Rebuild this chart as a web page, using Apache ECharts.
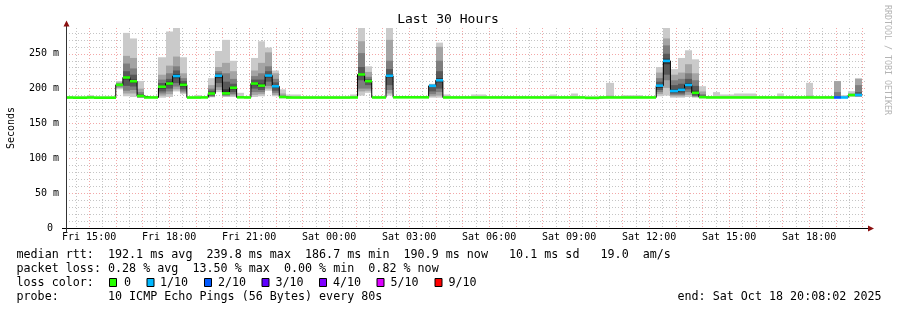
<!DOCTYPE html>
<html><head><meta charset="utf-8">
<script src="https://cdn.jsdelivr.net/npm/echarts@6.0.0/dist/echarts.min.js"></script>
<style>html,body{margin:0;padding:0;background:#fff}#c{width:897px;height:310px}</style>
</head><body><div id="c"></div>
<script>
// ---- time axis (minutes since Fri 00:00) ----
const startMin = 14 * 60 + 8 + 2 / 60;   // Fri 14:08:02
const endMin = startMin + 30 * 60;        // Sat 20:08:02
const firstStep = 14 * 60 + 8;            // first 16-min step start
const stepMin = 16;
const xTickValues = [900, 1080, 1260, 1440, 1620, 1800, 1980, 2160, 2340, 2520];
const xTickLabels = ['Fri 15:00', 'Fri 18:00', 'Fri 21:00', 'Sat 00:00', 'Sat 03:00', 'Sat 06:00', 'Sat 09:00', 'Sat 12:00', 'Sat 15:00', 'Sat 18:00'];
const yTickValues = [0, 50, 100, 150, 200, 250];
const yMax = 287;

// ---- sorted ping rtts per 16-min step (ms), ping1 = fastest ... ping10 = slowest ----
const ping1 = [
186.5,186.5,186.5,186.5,186.5,186.5,186.5,199,189,188,
186.5,186.5,186.5,187,188,196,192,186.5,186.5,186.5,
187.5,195,188,188,186.5,186.5,188,189,197,189,
186,186.5,186.5,186.5,186.5,186.5,186.5,186.5,186.5,186.5,
186.5,190,194,186.5,186.5,190,186.5,186.5,186.5,186.5,
186.5,187,187,186.5,186.5,186.5,186.5,186.5,186.5,186.5,
186.5,186.5,186.5,186.5,186.5,186.5,186.5,186.5,186.5,186.5,
186.5,186.5,186.5,186.5,186.5,186.5,186.5,186.5,186.5,186.5,
186.5,186.5,186.5,189,190,187,187,188,187,186,
186.5,186.5,186.5,186.5,186.5,186.5,186.5,186.5,186.5,186.5,
186.5,186.5,186.5,186.5,186.5,186.5,186.5,186.5,186.5,186.5,
188.5,188];
const ping2 = [
186.8,186.8,186.8,186.8,186.8,186.8,186.8,201,193,193,
187,186.8,186.8,190,192,199,194,186.8,186.8,186.8,
188,198,189,190,186.8,186.8,191,192,200,191,
186.5,186.8,186.8,186.8,186.8,186.8,186.8,186.8,186.8,186.8,
186.8,196,197,186.8,186.8,193,186.8,186.8,186.8,186.8,
186.8,189,190,186.8,186.8,186.8,186.8,186.8,186.8,186.8,
186.8,186.8,186.8,186.8,186.8,186.8,186.8,186.8,186.8,186.8,
186.8,186.8,186.8,186.8,186.8,186.8,186.8,186.8,186.8,186.8,
186.8,186.8,186.8,192,201,189,189,191,188,186.5,
186.8,186.8,186.8,186.8,186.8,186.8,186.8,186.8,186.8,186.8,
186.8,186.8,186.8,186.8,186.8,186.8,186.8,186.8,187,186.8,
189,188.5];
const ping3 = [
187,187,187,187,187,187,187,203,197,198,
187.5,187,187,193,196,203,196,187,187,187,
189,202,190,192,187,187,195,195,204,194,
187,187,187,187,187,187,187,187,187,187,
187,200,200,187,187,198,187,187,187,187,
187,192,195,187,187,187,187,187,187,187,
187,187,187,187,187,187,187,187,187,187,
187,187,187,187,187,187,187,187,187,187,
187,187,187,195,212,191,191,195,189,186.8,
187,187,187,187,187,187,187,187,187,187,
187,187,187,187,187,187,187,187,187.2,187,
189.5,189];
const ping4 = [
187.1,187.1,187.1,187.1,187.1,187.1,187.1,204,204,203,
188,187.1,187.1,196,200,208,199,187.1,187.1,187.1,
190,208,191,195,187.1,187.1,200,198,210,197,
187.5,187.1,187.1,187.1,187.1,187.1,187.1,187.1,187.1,187.1,
187.1,212,205,187.1,187.1,205,187.1,187.1,187.1,187.1,
187.1,196,200,187.1,187.1,187.1,187.1,187.1,187.1,187.1,
187.1,187.1,187.1,187.1,187.1,187.1,187.1,187.1,187.1,187.1,
187.1,187.1,187.1,187.1,187.1,187.1,187.1,187.1,187.1,187.1,
187.1,187.1,187.1,198,220,193,193,199,190,187,
187.1,187.1,187.1,187.1,187.1,187.1,187.1,187.1,187.1,187.1,
187.1,187.1,187.1,187.1,187.1,187.1,187.1,187.1,187.3,187.1,
190,189.5];
const ping5 = [
187.2,187.2,187.2,187.2,187.2,187.2,187.2,205,213,208,
188.5,187.2,187.2,200,205,215,203,187.2,187.2,187.2,
192,215,193,199,187.2,187.2,205,202,216,201,
188,187.2,187.2,187.2,187.2,187.2,187.2,187.2,187.2,187.2,
187.2,218,209,187.2,187.2,216,187.2,187.2,187.2,187.2,
187.2,203,209,187.2,187.2,187.2,187.2,187.2,187.2,187.2,
187.2,187.2,187.2,187.2,187.2,187.2,187.2,187.2,187.2,187.2,
187.2,187.2,187.2,187.2,187.2,187.2,187.2,187.2,187.2,187.2,
187.2,187.2,187.2,201,235,195,196,203,192,187.5,
187.2,187.2,187.2,187.2,187.2,187.2,187.2,187.2,187.2,187.2,
187.2,187.2,187.2,187.2,187.2,187.2,187.2,187.2,187.4,187.2,
190.5,190];
const ping6 = [
187.4,187.4,187.4,187.4,187.4,187.4,187.4,206,218,213,
190,187.4,187.4,204,210,221,208,187.4,187.4,187.4,
194,220,199,203,187.4,187.4,209,207,221,205,
188.5,187.4,187.4,187.4,187.4,187.4,187.4,187.4,187.4,187.4,
187.4,222,212,187.4,187.4,221,187.4,187.4,187.4,187.4,
187.4,204.5,215,187.4,187.4,187.4,187.4,187.4,187.4,187.4,
187.4,187.4,187.4,187.4,187.4,187.4,187.4,187.4,187.4,187.4,
187.4,187.4,187.4,187.4,187.4,187.4,187.4,187.4,187.4,187.4,
187.4,187.4,187.4,206,243,199,201,208,197,189,
187.4,187.4,187.4,187.4,187.4,187.4,187.4,187.4,187.4,187.4,
187.4,187.4,187.4,187.4,187.4,187.4,187.4,187.4,187.5,187.4,
191,192];
const ping7 = [
187.5,187.5,187.5,187.5,187.5,187.5,187.5,206.5,225,220,
192,187.5,187.5,208,214,226,211,187.5,187.5,187.5,
197,222,210,207,187.5,187.5,213,213,225,209,
189,187.5,187.5,187.5,187.5,187.5,187.5,187.5,187.5,187.5,
187.5,231,214,187.5,187.5,228,187.5,187.5,187.5,187.5,
187.5,205,225,187.5,187.5,187.5,187.5,187.5,187.5,187.5,
187.5,187.5,187.5,187.5,187.5,187.5,187.5,187.5,187.5,187.5,
187.5,187.5,187.5,187.5,187.5,187.5,187.5,187.5,187.5,187.5,
187.5,187.5,187.5,210,250,205,207,214,204,190,
187.5,187.5,187.5,187.5,187.5,187.5,187.5,187.5,187.5,187.5,
187.5,187.5,187.5,187.5,187.5,187.5,187.5,187.5,188,187.5,
191.5,195];
const ping8 = [
187.7,187.7,187.7,187.7,187.7,187.7,187.7,207.5,236,229,
195,187.7,187.7,213,222,232,215,187.7,187.7,187.7,
200,225,222,214,187.7,187.7,218,222,232,214,
190,187.7,187.7,187.7,187.7,187.7,187.7,187.7,187.7,187.7,
187.7,251,217,187.7,187.7,240,187.7,187.7,187.7,187.7,
187.7,205.5,240,187.7,187.7,187.7,187.7,187.7,187.7,187.7,
187.7,187.7,187.7,187.7,187.7,187.7,187.7,187.7,187.7,187.7,
187.7,187.7,187.7,187.7,187.7,187.7,187.7,187.7,187.7,187.7,
187.7,187.7,187.7,215,262,212,214,222,212,192,
187.7,187.7,187.7,187.7,187.7,187.7,187.7,187.7,187.7,187.7,
187.7,187.7,187.7,187.7,187.7,187.7,187.7,187.7,195,187.7,
192,205];
const ping9 = [
188,188,188,188,188,188,188,209,247,244,
200,188,188,220,233,246,222,188,188,188,
205,231,237,225,188,188,226,237,252,222,
193,188,188,188,188,188,188,188,188,188,
188,268,224,188,188,270,188,188,188,188,
188,206,260,188,188,188,188,188,188,188,
188,188,188,188,188,188,188,188,188,188,
188,188,188,188,188,188,190,188,188,188,
188,188,188,223,272,220,223,235,222,196,
188,188,188,188,188,188,188,188,188,188,
188,188,188,188,190,188,188,188,210.8,188,
193,214.3];
const ping10 = [
189,189,189,190.6,189,189,189,211,280,272,
211,189,189,245,282,290,245,189,190.6,189,
215,254,270,240,194,189,244,268,259,226,
199,191.6,191.6,189,189,189,189,189,189,189,
191.6,290,232,189,189,290,189,189,189,189,
189,207,266,191.6,189,189,189,191.6,191.6,189,
189,189,189,189,189,189,189,189,191.6,189,
189,193,189,189,189,189,208.3,189,190.6,190.6,
190.6,189,189,231,290,228,244,255,242,203.5,
189,195,191.6,191.6,193,193,193,189,189,189,
193,189,189,189,208.3,189,189,189,211,190.6,
196.3,214.5];
const median = [
187.2,187,187,187.3,187,187,187,205.5,216,210.5,
189.5,187.3,187.3,202.7,207.3,218,205.5,187.2,187.2,187.4,
193,218.5,193.2,201.3,187.5,187.3,207.3,204.3,218.8,203.3,
188,187.2,187.2,187.2,187.2,187.2,187.2,187.2,187.2,187.2,
187.3,220.3,210.7,187.3,187.3,218.5,187.5,187.5,187.5,187.5,
187.5,204,212,187.3,187.3,187.3,187.3,187.3,187.3,187.3,
187.3,187.3,187.3,187.3,187.3,187.3,187.3,187.3,187.3,187.3,
187.3,187.3,187.3,186.7,186.7,187.3,187.3,187.3,187.3,187.3,
187.3,187.3,187.3,204.3,239.8,196.6,198.3,205.2,194,187.8,
187.3,187.3,187.3,187.3,187.3,187.3,187.3,187.3,187.3,187.3,
187.3,187.3,187.3,187.3,187.3,187.3,187.3,187.3,187.3,187.3,
190.8,190.9];
const lost = [
0,0,0,0,0,0,0,0,0,0,
0,0,0,0,0,1,0,0,0,0,
0,1,0,0,0,0,0,0,1,1,
0,0,0,0,0,0,0,0,0,0,
0,0,0,0,0,1,0,0,0,0,
0,1,1,0,0,0,0,0,0,0,
0,0,0,0,0,0,0,0,0,0,
0,0,0,0,0,0,0,0,0,0,
0,0,0,1,1,1,1,1,0,0,
0,0,0,0,0,0,0,0,0,0,
0,0,0,0,0,0,0,0,2,1,
0,1];

const lossColors = ['#26ff00', '#00b8ff', '#0059ff', '#5e00ff', '#7e00ff', '#dd00ff', '#ff0000'];
const lossLabels = ['0', '1/10', '2/10', '3/10', '4/10', '5/10', '9/10'];
const smokeShades = ['#cacaca', '#a4a4a4', '#7e7e7e', '#585858', '#323232'];

const titleText = 'Last 30 Hours';
const row1 = 'median rtt:  192.1 ms avg  239.8 ms max  186.7 ms min  190.9 ms now   10.1 ms sd   19.0  am/s';
const row2 = 'packet loss: 0.28 % avg  13.50 % max  0.00 % min  0.82 % now';
const row3 = 'loss color:';
const row4 = 'probe:       10 ICMP Echo Pings (56 Bytes) every 80s';
const endText = 'end: Sat Oct 18 20:08:02 2025';
const watermark = 'RRDTOOL / TOBI OETIKER';

// ---- layout ----
const G = { left: 66, top: 28, width: 800, height: 200 };
const MONO = '"DejaVu Sans Mono", monospace';

function lossColor(n) {
  if (n <= 0) return lossColors[0];
  if (n <= 4) return lossColors[n];
  if (n <= 8) return lossColors[5];
  return lossColors[6];
}

const smokeData = median.map((m, i) => [firstStep + i * stepMin,
  ping1[i], ping2[i], ping3[i], ping4[i], ping5[i], ping6[i], ping7[i], ping8[i], ping9[i], ping10[i]]);
const medData = median.map((m, i) => [firstStep + i * stepMin, m, lost[i]]);
const lineData = median.map((m, i) => [firstStep + i * stepMin, m]);
lineData.push([firstStep + median.length * stepMin, median[median.length - 1]]);

const majorX = [], minorX = [];
for (let h = 15; h <= 44; h++) majorX.push(h * 60);
for (let h = 14; h <= 43; h++) minorX.push(h * 60 + 30);
const minorY = [];
for (let v = 10; v < yMax; v += 10) if (v % 50) minorY.push(v);

const gridMinor = 'rgba(150,150,150,0.55)';
const gridMajor = 'rgba(235,110,110,0.6)';

function baseX(extra) {
  return Object.assign({ type: 'value', min: startMin, max: endMin, position: 'bottom',
    axisLine: { show: false }, axisTick: { show: false }, axisLabel: { show: false },
    splitLine: { show: false } }, extra);
}
function baseY(extra) {
  return Object.assign({ type: 'value', min: 0, max: yMax, position: 'left',
    axisLine: { show: false }, axisTick: { show: false }, axisLabel: { show: false },
    splitLine: { show: false } }, extra);
}

const chart = echarts.init(document.getElementById('c'), null, { renderer: 'canvas' });

const gx0 = G.left + 0.5, gy0 = G.top + G.height + 0.5;
const graphics = [
  { type: 'line', z: 100, shape: { x1: G.left - 4, y1: gy0, x2: G.left + G.width + 4, y2: gy0 }, style: { stroke: '#000', lineWidth: 1 } },
  { type: 'line', z: 100, shape: { x1: gx0, y1: gy0 + 4, x2: gx0, y2: G.top - 4 }, style: { stroke: '#333', lineWidth: 1 } },
  { type: 'polygon', z: 101, shape: { points: [[gx0 - 3, G.top - 1.5], [gx0 + 3, G.top - 1.5], [gx0, G.top - 7.5]] }, style: { fill: '#8b1010' } },
  { type: 'polygon', z: 101, shape: { points: [[G.left + G.width + 2, gy0 - 3], [G.left + G.width + 2, gy0 + 3], [G.left + G.width + 8, gy0]] }, style: { fill: '#8b1010' } },
  { type: 'text', x: 448, y: 19.5, style: { text: titleText, font: '13px ' + MONO, fill: '#000', align: 'center', verticalAlign: 'middle' } },
  { type: 'text', x: 11, y: 128, rotation: Math.PI / 2, style: { text: 'Seconds', font: '10px ' + MONO, fill: '#000', align: 'center', verticalAlign: 'middle' } },
  { type: 'text', x: 887, y: 5, rotation: -Math.PI / 2, style: { text: watermark, font: '8.3px ' + MONO, fill: '#b4b4b4', align: 'left', verticalAlign: 'middle' } },
  { type: 'text', x: 16.5, y: 254.5, style: { text: row1, font: '11.7px ' + MONO, fill: '#000', align: 'left', verticalAlign: 'middle' } },
  { type: 'text', x: 16.5, y: 268.5, style: { text: row2, font: '11.7px ' + MONO, fill: '#000', align: 'left', verticalAlign: 'middle' } },
  { type: 'text', x: 16.5, y: 282.5, style: { text: row3, font: '11.7px ' + MONO, fill: '#000', align: 'left', verticalAlign: 'middle' } },
  { type: 'text', x: 16.5, y: 296.5, style: { text: row4, font: '11.7px ' + MONO, fill: '#000', align: 'left', verticalAlign: 'middle' } },
  { type: 'text', x: 677.5, y: 296.5, style: { text: endText, font: '11.7px ' + MONO, fill: '#000', align: 'left', verticalAlign: 'middle' } }
];
const boxX = [109.5, 147, 204.5, 262, 319.5, 377, 435];
const boxTextX = [124, 160, 218, 275.5, 333, 390.5, 448.5];
lossLabels.forEach((lab, k) => {
  graphics.push({ type: 'rect', z: 100, shape: { x: boxX[k], y: 278.5, width: 7, height: 8 }, style: { fill: lossColors[k], stroke: '#000', lineWidth: 1 } });
  graphics.push({ type: 'text', x: boxTextX[k], y: 282.5, style: { text: lab, font: '11.7px ' + MONO, fill: '#000', align: 'left', verticalAlign: 'middle' } });
});

chart.setOption({
  animation: false,
  backgroundColor: '#fff',
  grid: { left: G.left, top: G.top, width: G.width, height: G.height },
  xAxis: [
    baseX({}),
    baseX({ axisTick: { show: false, customValues: minorX }, splitLine: { show: true, lineStyle: { color: gridMinor, width: 1, type: [1, 2] } } }),
    baseX({ axisTick: { show: false, customValues: majorX }, splitLine: { show: true, lineStyle: { color: gridMajor, width: 1, type: [1, 2] } } }),
    baseX({ axisTick: { show: false, customValues: xTickValues },
      axisLabel: { show: true, customValues: xTickValues, margin: 4, color: '#000', fontFamily: MONO, fontSize: 10,
        formatter: v => xTickLabels[xTickValues.indexOf(v)] || '' } })
  ],
  yAxis: [
    baseY({ axisTick: { show: false, customValues: yTickValues },
      axisLabel: { show: true, customValues: yTickValues, margin: 7, color: '#000', fontFamily: MONO, fontSize: 10,
        formatter: v => v === 0 ? '0 ' : v + ' m' },
      splitLine: { show: true, lineStyle: { color: gridMajor, width: 1, type: [1, 2] } } }),
    baseY({ axisTick: { show: false, customValues: minorY }, splitLine: { show: true, lineStyle: { color: gridMinor, width: 1, type: [1, 2] } } })
  ],
  series: [
    {
      type: 'custom', name: 'smoke', xAxisIndex: 0, yAxisIndex: 0, z: 3, silent: true,
      data: smokeData,
      encode: { x: 0, y: [1, 2, 3, 4, 5, 6, 7, 8, 9, 10] },
      renderItem: function (params, api) {
        const xa = Math.max(api.value(0), startMin);
        const xb = Math.min(api.value(0) + stepMin, endMin);
        const kids = [];
        for (let k = 0; k < 5; k++) {
          const lo = Math.min(api.value(1 + k), yMax);
          const hi = Math.min(api.value(10 - k), yMax);
          const a = api.coord([xa, hi]);
          const b = api.coord([xb, lo]);
          const x0 = Math.round(a[0]), x1 = Math.round(b[0]);
          kids.push({ type: 'rect', shape: { x: x0, y: a[1], width: x1 - x0, height: Math.max(b[1] - a[1], 0) },
            style: { fill: smokeShades[k] } });
        }
        return { type: 'group', children: kids };
      }
    },
    {
      type: 'line', name: 'median', xAxisIndex: 0, yAxisIndex: 0, z: 4, silent: true,
      data: lineData, step: 'end', symbol: 'none',
      lineStyle: { color: '#000', width: 1 }
    },
    {
      type: 'custom', name: 'loss', xAxisIndex: 0, yAxisIndex: 0, z: 5, silent: true,
      data: medData,
      encode: { x: 0, y: 1 },
      renderItem: function (params, api) {
        const xa = Math.max(api.value(0), startMin);
        const xb = Math.min(api.value(0) + stepMin, endMin);
        const a = api.coord([xa, api.value(1)]);
        const b = api.coord([xb, api.value(1)]);
        const x0 = Math.round(a[0]), x1 = Math.round(b[0]);
        return { type: 'rect', shape: { x: x0, y: a[1] - 1.3, width: x1 - x0, height: 2.6 },
          style: { fill: lossColor(api.value(2)) } };
      }
    }
  ],
  graphic: graphics
});
</script>
</body></html>
